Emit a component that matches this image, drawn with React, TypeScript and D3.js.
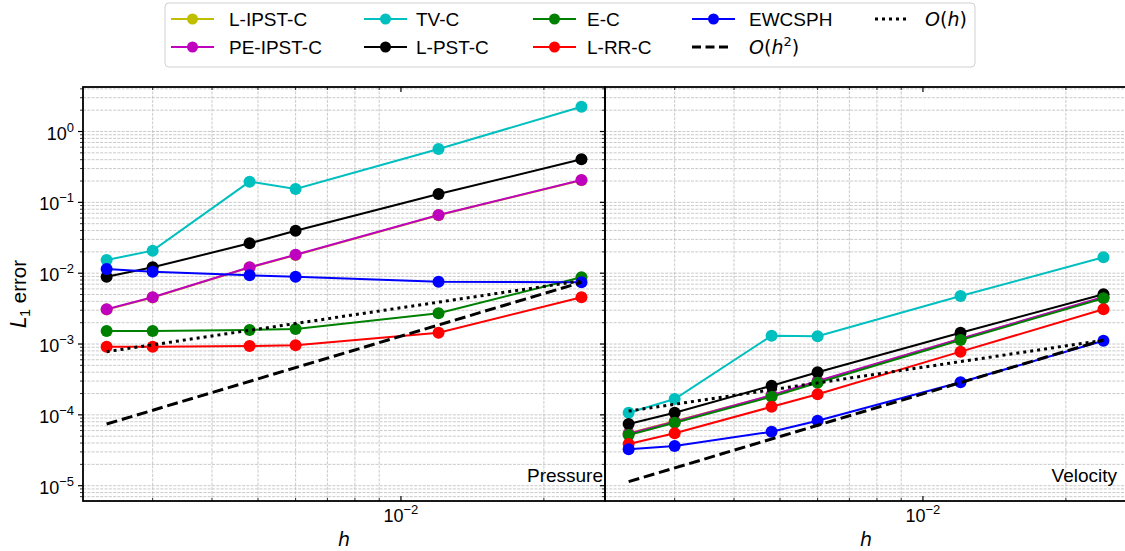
import React from "react";
import * as d3 from "d3";

// ---------- data ----------
const H = [0.0024, 0.003, 0.0048, 0.006, 0.012, 0.024];
const H_REF = [0.0024, 0.024];

const SERIES_NAMES = ["L-IPST-C", "PE-IPST-C", "TV-C", "L-PST-C", "E-C", "L-RR-C", "EWCSPH"];
const SERIES_COLORS = ["#bfbf00", "#bf00bf", "#00bfbf", "#000000", "#008000", "#ff0000", "#0000ff"];

// Pressure
const lipstP = [0.00306, 0.00453, 0.012, 0.018, 0.0657, 0.205];
const peipstP = [0.00309, 0.00457, 0.0121, 0.0182, 0.0663, 0.207];
const tvP = [0.0154, 0.0208, 0.196, 0.154, 0.566, 2.24];
const lpstP = [0.0089, 0.0121, 0.0264, 0.0398, 0.131, 0.405];
const ecP = [0.00153, 0.00153, 0.00158, 0.00163, 0.00272, 0.00875];
const lrrP = [0.000917, 0.000917, 0.000938, 0.00096, 0.001445, 0.00457];
const ewP = [0.01146, 0.0105, 0.00933, 0.0089, 0.00758, 0.00743];
const ohP = [7.8e-4, 7.8e-3];
const oh2P = [7.43e-5, 7.43e-3];

// Velocity
const lipstV = [5.5e-5, 8.1e-5, 1.87e-4, 2.95e-4, 1.18e-3, 4.55e-3];
const peipstV = [5.4e-5, 8.0e-5, 1.9e-4, 3.0e-4, 1.19e-3, 4.6e-3];
const tvV = [1.07e-4, 1.675e-4, 1.31e-3, 1.29e-3, 4.76e-3, 0.01676];
const lpstV = [7.43e-5, 1.07e-4, 2.58e-4, 3.99e-4, 1.445e-3, 5.04e-3];
const ecV = [5.2e-5, 7.75e-5, 1.8e-4, 2.84e-4, 1.14e-3, 4.42e-3];
const lrrV = [3.88e-5, 5.49e-5, 1.3e-4, 1.95e-4, 7.8e-4, 3.09e-3];
const ewV = [3.27e-5, 3.63e-5, 5.78e-5, 8.27e-5, 2.88e-4, 1.11e-3];
const ohV = [1.13e-4, 1.13e-3];
const oh2V = [1.14e-5, 1.14e-3];

const Y_MAJOR = [1, 1e-1, 1e-2, 1e-3, 1e-4, 1e-5];
const Y_MAJOR_EXP = ["0", "−1", "−2", "−3", "−4", "−5"];
const X_MAJOR = [1e-2];
const X_MAJOR_EXP = ["−2"];

const PANELS = [
  { title: "Pressure", series: [lipstP, peipstP, tvP, lpstP, ecP, lrrP, ewP], oh: ohP, oh2: oh2P },
  { title: "Velocity", series: [lipstV, peipstV, tvV, lpstV, ecV, lrrV, ewV], oh: ohV, oh2: oh2V },
];

// ---------- layout ----------
const W = 1125, HGT = 551;
const TOP = 87, BOTTOM = 501;
const PANEL_X = [83, 605];
const PANEL_W = 522;
const X_DOMAIN: [number, number] = [2.14e-3, 0.0269];
const Y_DOMAIN: [number, number] = [6.08e-6, 4.25];
const SANS = "'Liberation Sans', Arial, Helvetica, sans-serif";
const MATH = "'DejaVu Sans', sans-serif";
const TICK_FS = 18;
const LABEL_FS = 19;

const yScale = d3.scaleLog().domain(Y_DOMAIN).range([BOTTOM, TOP]);

function minorTicks(domain: [number, number]) {
  const out: number[] = [];
  const lo = Math.floor(Math.log10(domain[0]));
  const hi = Math.ceil(Math.log10(domain[1]));
  for (let e = lo; e <= hi; e++) {
    for (let m = 2; m <= 9; m++) {
      const v = m * Math.pow(10, e);
      if (v >= domain[0] && v <= domain[1]) out.push(v);
    }
  }
  return out;
}

const GRID = "#bdbdbd";

function Panel({ idx }: { idx: number }) {
  const p = PANELS[idx];
  const x0 = PANEL_X[idx];
  const xScale = d3.scaleLog().domain(X_DOMAIN).range([x0, x0 + PANEL_W]);
  const yMinor = minorTicks(Y_DOMAIN);
  const xMinor = minorTicks(X_DOMAIN);
  const line = d3
    .line<[number, number]>()
    .x((d) => xScale(d[0]))
    .y((d) => yScale(d[1]));
  return (
    <g>
      {[...yMinor, ...Y_MAJOR].map((v, i) => (
        <line key={"gy" + i} x1={x0} x2={x0 + PANEL_W} y1={yScale(v)} y2={yScale(v)} stroke={GRID} strokeWidth={0.8} strokeDasharray="3,1.3" />
      ))}
      {xMinor.map((v, i) => (
        <line key={"gx" + i} x1={xScale(v)} x2={xScale(v)} y1={TOP} y2={BOTTOM} stroke={GRID} strokeWidth={0.8} strokeDasharray="3,1.3" />
      ))}
      {p.series.map((vals, si) => {
        const pts = H.map((h, i) => [h, vals[i]] as [number, number]);
        return (
          <g key={"s" + si}>
            <path d={line(pts) || ""} fill="none" stroke={SERIES_COLORS[si]} strokeWidth={2} />
            {pts.map((d, i) => (
              <circle key={i} cx={xScale(d[0])} cy={yScale(d[1])} r={6} fill={SERIES_COLORS[si]} />
            ))}
          </g>
        );
      })}
      <path d={line(H_REF.map((h, i) => [h, p.oh2[i]] as [number, number])) || ""} fill="none" stroke="#000" strokeWidth={3} strokeDasharray="11,4.8" />
      <path d={line(H_REF.map((h, i) => [h, p.oh[i]] as [number, number])) || ""} fill="none" stroke="#000" strokeWidth={3} strokeDasharray="3,4" />
      <rect x={x0} y={TOP} width={PANEL_W} height={BOTTOM - TOP} fill="none" stroke="#000" strokeWidth={1.8} />
      {Y_MAJOR.map((v, i) => (
        <line key={"ym" + i} x1={x0 - 5} x2={x0} y1={yScale(v)} y2={yScale(v)} stroke="#000" strokeWidth={1.2} />
      ))}
      {yMinor.map((v, i) => (
        <line key={"yn" + i} x1={x0 - 3} x2={x0} y1={yScale(v)} y2={yScale(v)} stroke="#000" strokeWidth={0.8} />
      ))}
      {X_MAJOR.map((v, i) => (
        <g key={"xm" + i}>
          <line x1={xScale(v)} x2={xScale(v)} y1={BOTTOM} y2={BOTTOM - 5} stroke="#000" strokeWidth={1.2} />
          <line x1={xScale(v)} x2={xScale(v)} y1={TOP} y2={TOP + 5} stroke="#000" strokeWidth={1.2} />
          <text x={xScale(v)} y={522} textAnchor="middle" fontFamily={SANS} fontSize={TICK_FS}>
            10<tspan dy={-8} fontSize={13}>{X_MAJOR_EXP[i]}</tspan>
          </text>
        </g>
      ))}
      {xMinor.map((v, i) => (
        <g key={"xn" + i}>
          <line x1={xScale(v)} x2={xScale(v)} y1={BOTTOM} y2={BOTTOM - 3} stroke="#000" strokeWidth={0.8} />
          <line x1={xScale(v)} x2={xScale(v)} y1={TOP} y2={TOP + 3} stroke="#000" strokeWidth={0.8} />
        </g>
      ))}
      {idx === 0 &&
        Y_MAJOR.map((v, i) => (
          <text key={"yl" + i} x={x0 - 9} y={yScale(v) + 8} textAnchor="end" fontFamily={SANS} fontSize={TICK_FS}>
            10<tspan dy={-8} fontSize={13}>{Y_MAJOR_EXP[i]}</tspan>
          </text>
        ))}
      <text x={idx === 0 ? x0 + PANEL_W - 2 : x0 + PANEL_W - 10} y={482} textAnchor="end" fontFamily={SANS} fontSize={LABEL_FS}>
        {p.title}
      </text>
      <text x={x0 + PANEL_W / 2} y={546} textAnchor="middle" fontFamily={MATH} fontStyle="italic" fontSize={LABEL_FS}>
        h
      </text>
    </g>
  );
}

const LEG_LINE_X = [171, 364, 533, 692, 874];
const LEG_TEXT_X = [229, 416, 587, 749, 925];
const LEG_ROWS = [19, 47];

function Legend() {
  const items: { kind: string; color?: string; label: string }[] = [
    ...SERIES_NAMES.map((n, i) => ({ kind: "marker", color: SERIES_COLORS[i], label: n })),
    { kind: "dash", label: "h2" },
    { kind: "dot", label: "h" },
  ];
  return (
    <g>
      <rect x={165} y={3} width={810} height={64} rx={4} fill="#fff" stroke="#d0d0d0" strokeWidth={1} />
      {items.map((it, k) => {
        const col = Math.floor(k / 2);
        const row = k % 2;
        const lx = LEG_LINE_X[col];
        const ly = LEG_ROWS[row];
        const tx = LEG_TEXT_X[col];
        return (
          <g key={k}>
            {it.kind === "marker" && (
              <g>
                <line x1={lx} x2={lx + 43} y1={ly} y2={ly} stroke={it.color} strokeWidth={2} />
                <circle cx={lx + 21.5} cy={ly} r={5.5} fill={it.color} />
                <text x={tx} y={ly + 7} fontFamily={SANS} fontSize={LABEL_FS}>{it.label}</text>
              </g>
            )}
            {it.kind === "dash" && (
              <g>
                <line x1={lx} x2={lx + 40} y1={ly} y2={ly} stroke="#000" strokeWidth={3} strokeDasharray="9,4.5" />
                <text x={tx} y={ly + 7} fontFamily={MATH} fontSize={LABEL_FS}>
                  <tspan fontStyle="italic">O</tspan>(<tspan fontStyle="italic">h</tspan>
                  <tspan dy={-8} fontSize={13}>2</tspan>
                  <tspan dy={8}>)</tspan>
                </text>
              </g>
            )}
            {it.kind === "dot" && (
              <g>
                <line x1={lx + 1} x2={lx + 34} y1={ly} y2={ly} stroke="#000" strokeWidth={3} strokeDasharray="3,4" />
                <text x={tx} y={ly + 7} fontFamily={MATH} fontSize={LABEL_FS}>
                  <tspan fontStyle="italic">O</tspan>(<tspan fontStyle="italic">h</tspan>)
                </text>
              </g>
            )}
          </g>
        );
      })}
    </g>
  );
}

export default function App() {
  return (
    <svg width={W} height={HGT} style={{ position: "absolute", left: 0, top: 0, background: "#fff" }}>
      <Panel idx={0} />
      <Panel idx={1} />
      <text transform={`translate(26, ${(TOP + BOTTOM) / 2}) rotate(-90)`} textAnchor="middle" fontFamily={SANS} fontSize={20.5}>
        <tspan fontFamily={MATH} fontStyle="italic">L</tspan>
        <tspan dy={4} fontSize={14}>1</tspan>
        <tspan dy={-4}> error</tspan>
      </text>
      <Legend />
    </svg>
  );
}
